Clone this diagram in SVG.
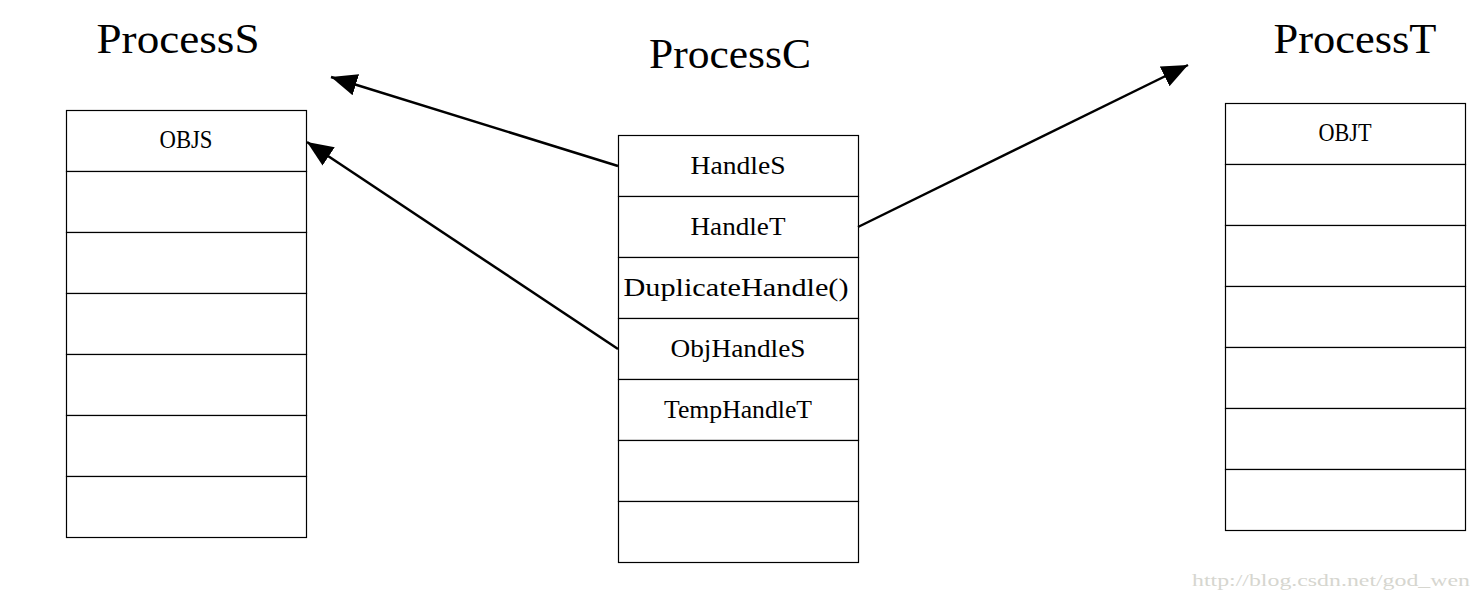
<svg xmlns="http://www.w3.org/2000/svg" width="1482" height="600" viewBox="0 0 1482 600">
<defs>
<style>
.cell{fill:#fff;stroke:#000;stroke-width:1.2}
.t{font-family:"Liberation Serif",serif;font-size:25px;fill:#000;text-anchor:middle}
.title{font-family:"Liberation Serif",serif;font-size:42px;fill:#000;text-anchor:middle}
.wm{font-family:"Liberation Serif",serif;font-size:17px;fill:#d6d6cf;text-anchor:start}
.conn{stroke:#000;stroke-width:2.5;fill:none;marker-end:url(#ah)}
</style>
<marker id="ah" markerUnits="userSpaceOnUse" markerWidth="28" markerHeight="24" refX="26" refY="12" orient="auto">
<path d="M0,1 L26,12 L0,23 z" fill="#000"/>
</marker>
</defs>
<rect width="1482" height="600" fill="#fff"/>
<g id="processS">
<text class="title" x="178" y="53" textLength="163" lengthAdjust="spacingAndGlyphs">ProcessS</text>
<rect class="cell" x="66.5" y="110.5" width="240" height="61"/>
<rect class="cell" x="66.5" y="171.5" width="240" height="61"/>
<rect class="cell" x="66.5" y="232.5" width="240" height="61"/>
<rect class="cell" x="66.5" y="293.5" width="240" height="61"/>
<rect class="cell" x="66.5" y="354.5" width="240" height="61"/>
<rect class="cell" x="66.5" y="415.5" width="240" height="61"/>
<rect class="cell" x="66.5" y="476.5" width="240" height="61"/>
<text class="t" x="186" y="148" textLength="53" lengthAdjust="spacingAndGlyphs">OBJS</text>
</g>
<g id="processC">
<text class="title" x="730" y="68" textLength="162" lengthAdjust="spacingAndGlyphs">ProcessC</text>
<rect class="cell" x="618.5" y="135.5" width="240" height="61"/>
<rect class="cell" x="618.5" y="196.5" width="240" height="61"/>
<rect class="cell" x="618.5" y="257.5" width="240" height="61"/>
<rect class="cell" x="618.5" y="318.5" width="240" height="61"/>
<rect class="cell" x="618.5" y="379.5" width="240" height="61"/>
<rect class="cell" x="618.5" y="440.5" width="240" height="61"/>
<rect class="cell" x="618.5" y="501.5" width="240" height="61"/>
<text class="t" x="738" y="174" textLength="95" lengthAdjust="spacingAndGlyphs">HandleS</text>
<text class="t" x="738" y="235" textLength="95" lengthAdjust="spacingAndGlyphs">HandleT</text>
<text class="t" x="736" y="296" textLength="225" lengthAdjust="spacingAndGlyphs">DuplicateHandle()</text>
<text class="t" x="738" y="357" textLength="135" lengthAdjust="spacingAndGlyphs">ObjHandleS</text>
<text class="t" x="738" y="418" textLength="148" lengthAdjust="spacingAndGlyphs">TempHandleT</text>
</g>
<g id="processT">
<text class="title" x="1355" y="53" textLength="163" lengthAdjust="spacingAndGlyphs">ProcessT</text>
<rect class="cell" x="1225.5" y="103.5" width="240" height="61"/>
<rect class="cell" x="1225.5" y="164.5" width="240" height="61"/>
<rect class="cell" x="1225.5" y="225.5" width="240" height="61"/>
<rect class="cell" x="1225.5" y="286.5" width="240" height="61"/>
<rect class="cell" x="1225.5" y="347.5" width="240" height="61"/>
<rect class="cell" x="1225.5" y="408.5" width="240" height="61"/>
<rect class="cell" x="1225.5" y="469.5" width="240" height="61"/>
<text class="t" x="1345" y="141" textLength="53" lengthAdjust="spacingAndGlyphs">OBJT</text>
</g>
<g id="connectors">
<line class="conn" x1="618" y1="166" x2="331" y2="77"/>
<line class="conn" x1="618" y1="349" x2="307" y2="142"/>
<line class="conn" x1="858" y1="227" x2="1188" y2="65"/>
</g>
<text class="wm" x="1192" y="586" textLength="278" lengthAdjust="spacingAndGlyphs">http://blog.csdn.net/god_wen</text>
</svg>
